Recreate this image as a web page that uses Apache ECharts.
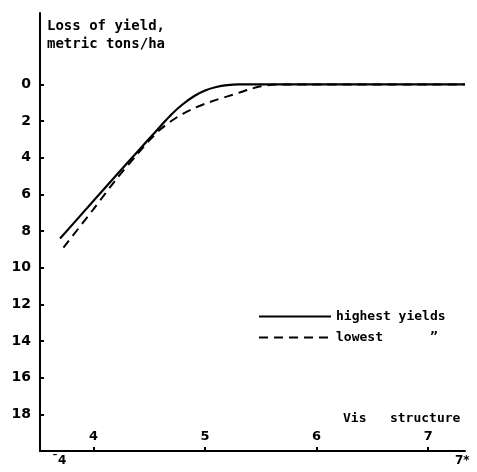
<!DOCTYPE html>
<html><head><meta charset="utf-8">
<script src="https://cdn.jsdelivr.net/npm/echarts@6/dist/echarts.min.js"></script>
<style>html,body{margin:0;padding:0;background:#fff}#c{width:477px;height:472px}</style>
</head><body><div id="c"></div>
<script>
var highestYields = [[3.7,8.4],[4.0,6.35],[4.3,4.3],[4.5,2.95],[4.6,2.28],[4.7,1.62],[4.8,1.08],[4.9,0.64],[5.0,0.33],[5.1,0.14],[5.2,0.04],[5.3,0],[6,0],[7.33,0]];
var lowestYields = [[3.73,8.9],[4.0,6.8],[4.2,5.2],[4.4,3.75],[4.5,3.05],[4.6,2.45],[4.7,1.98],[4.8,1.6],[4.9,1.3],[5.0,1.05],[5.1,0.84],[5.2,0.65],[5.3,0.46],[5.4,0.26],[5.5,0.1],[5.6,0.02],[5.7,0],[7.33,0]];
var xTicks = [4,5,6,7];
var yTicks = [0,2,4,6,8,10,12,14,16,18];
var seriesNames = ['highest yields','lowest      \u201D'];
var yTitle = 'Loss of yield,\nmetric tons/ha';
var xTitle = 'Vis   structure';
var extraXLabels = ['\u02C94','7*'];

var font = 'DejaVu Sans';
var mono = 'DejaVu Sans Mono';
var chart = echarts.init(document.getElementById('c'));
chart.setOption({
  animation:false,
  backgroundColor:'#fff',
  grid:{left:40,right:12,top:13,bottom:21,containLabel:false},
  xAxis:{type:'value',min:3.52,max:7.33,
    axisLine:{onZero:false,lineStyle:{color:'#000',width:2}},
    splitLine:{show:false},
    axisTick:{inside:true,length:4,customValues:xTicks,lineStyle:{color:'#000',width:2}},
    axisLabel:{inside:true,margin:8,customValues:xTicks,color:'#000',fontFamily:font,fontWeight:'bold',fontSize:13}
  },
  yAxis:{type:'value',inverse:true,min:-3.9,max:20,
    axisLine:{show:true,onZero:false,lineStyle:{color:'#000',width:2}},
    splitLine:{show:false},
    axisTick:{show:true,inside:true,length:4,customValues:yTicks,lineStyle:{color:'#000',width:2}},
    axisLabel:{margin:9,customValues:yTicks,color:'#000',fontFamily:font,fontWeight:'bold',fontSize:14}
  },
  legend:{left:253,top:305,orient:'vertical',itemWidth:72,itemHeight:14,itemGap:8,
    itemStyle:{opacity:0},
    textStyle:{color:'#000',fontFamily:mono,fontWeight:'bold',fontSize:13},
    data:seriesNames},
  series:[
    {name:seriesNames[0],type:'line',data:highestYields,symbol:'none',smooth:0.3,
     itemStyle:{color:'#000'},lineStyle:{color:'#000',width:2.2}},
    {name:seriesNames[1],type:'line',data:lowestYields,symbol:'none',smooth:0.3,
     itemStyle:{color:'#000'},lineStyle:{color:'#000',width:2,type:[9,6]}}
  ],
  graphic:[
    {type:'text',left:47,top:17,style:{text:yTitle,fill:'#000',font:'bold 14px '+mono,lineHeight:18}},
    {type:'text',left:343,top:412,style:{text:xTitle,fill:'#000',font:'bold 13px '+mono}},
    {type:'text',left:52,top:455,style:{text:extraXLabels[0],fill:'#000',font:'bold 12px '+font}},
    {type:'text',left:455,top:455,style:{text:extraXLabels[1],fill:'#000',font:'bold 12px '+font}}
  ]
});
</script></body></html>
